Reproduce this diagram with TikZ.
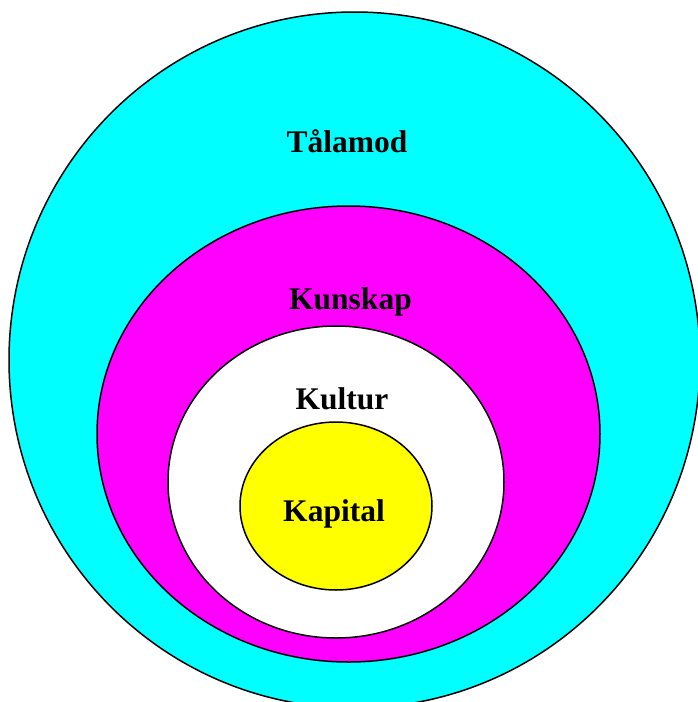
\documentclass[tikz,border=0pt]{standalone}
\usepackage{fontspec}
\setmainfont{Liberation Serif}
\definecolor{ringcyan}{RGB}{0,255,255}
\definecolor{ringmagenta}{RGB}{255,0,255}
\definecolor{ringyellow}{RGB}{255,255,0}
\begin{document}
\begin{tikzpicture}[x=1pt,y=-1pt,
    ring/.style={draw=black,line width=1.5pt},
    word/.style={anchor=base,font=\fontsize{31.5}{36}\selectfont\bfseries}]
    \useasboundingbox (0,0) rectangle (698,702);
    \clip (0,0) rectangle (698,702);

    \draw[ring,fill=ringcyan] (354.5,360) ellipse [x radius=345.5,y radius=348];
    \draw[ring,fill=ringmagenta] (348.5,434) ellipse [x radius=251.5,y radius=228];
    \draw[ring,fill=white] (336,482) ellipse [x radius=168,y radius=156];
    \draw[ring,fill=ringyellow] (336,506) ellipse [x radius=96,y radius=84];

    \node[word] (talamod) at (347,152) {Tålamod};
    \node[word] (kunskap) at (350.5,309) {Kunskap};
    \node[word] (kultur) at (342,409) {Kultur};
    \node[word] (kapital) at (334,521) {Kapital};
\end{tikzpicture}
\end{document}
